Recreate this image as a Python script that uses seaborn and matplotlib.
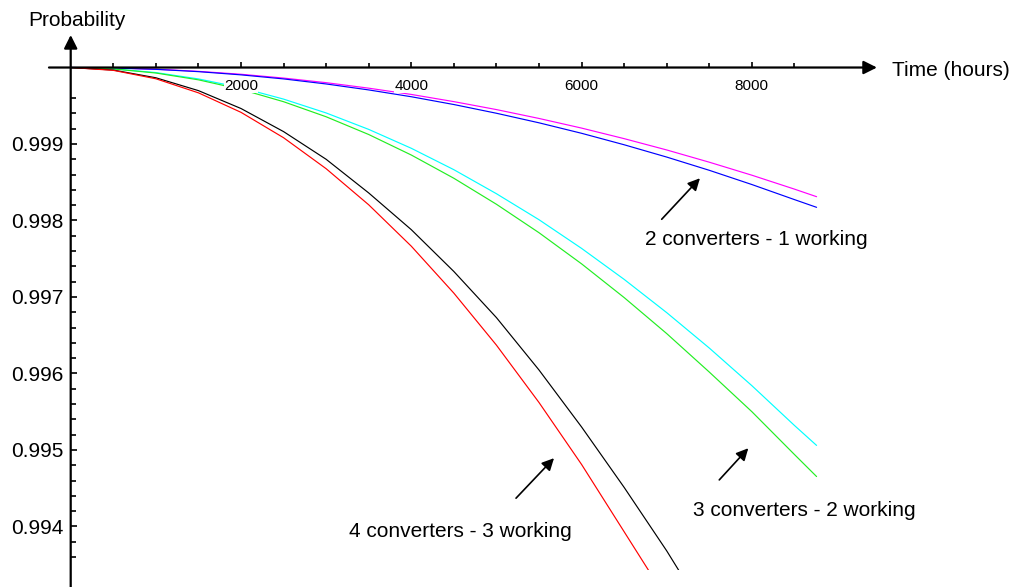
import matplotlib
matplotlib.use("Agg")
import matplotlib.pyplot as plt
import numpy as np
import pandas as pd
import seaborn as sns

# Operating time in hours (one year)
hours = [0, 500, 1000, 1500, 2000, 2500, 3000, 3500, 4000, 4500,
         5000, 5500, 6000, 6500, 7000, 7500, 8000, 8500, 8760]

# Reliability of each redundant converter arrangement
two_conv_upper = [1.0, 0.999994, 0.999978, 0.99995, 0.999912, 0.999862, 0.999802,
                  0.99973, 0.999648, 0.999554, 0.99945, 0.999334, 0.999208,
                  0.99907, 0.998922, 0.998762, 0.998592, 0.99841, 0.998311]
two_conv_lower = [1.0, 0.999994, 0.999976, 0.999946, 0.999904, 0.999851, 0.999785,
                  0.999707, 0.999618, 0.999516, 0.999402, 0.999277, 0.99914,
                  0.99899, 0.998829, 0.998656, 0.99847, 0.998273, 0.998172]
three_conv_upper = [1.0, 0.999983, 0.999934, 0.999851, 0.999736, 0.999587, 0.999406,
                    0.999191, 0.998944, 0.998664, 0.99835, 0.99801, 0.997635,
                    0.99723, 0.996795, 0.996332, 0.99584, 0.99532, 0.995059]
three_conv_lower = [1.0, 0.999982, 0.999928, 0.999839, 0.999714, 0.999553, 0.999356,
                    0.999124, 0.998856, 0.998552, 0.998212, 0.99784, 0.997433,
                    0.996992, 0.996521, 0.996018, 0.9955, 0.99494, 0.994652]
four_conv_upper = [1.0, 0.999967, 0.999866, 0.999698, 0.999464, 0.999162, 0.9988,
                   0.99836, 0.99788, 0.997333, 0.99673, 0.996045, 0.9953,
                   0.99451, 0.99368, 0.99278]
four_conv_lower = [1.0, 0.999963, 0.999853, 0.999669, 0.999414, 0.999082, 0.998677,
                   0.998205, 0.997664, 0.99705, 0.99637, 0.99562, 0.99481,
                   0.99393, 0.99305]

series = {
    "2 conv A": two_conv_upper,
    "2 conv B": two_conv_lower,
    "3 conv A": three_conv_upper,
    "3 conv B": three_conv_lower,
    "4 conv A": four_conv_upper,
    "4 conv B": four_conv_lower,
}
colors = {
    "2 conv A": "#ff00ff",
    "2 conv B": "#0000ff",
    "3 conv A": "#00ffff",
    "3 conv B": "#22ee22",
    "4 conv A": "#000000",
    "4 conv B": "#ff0000",
}

x_major = [2000, 4000, 6000, 8000]
x_labels = ["2000", "4000", "6000", "8000"]
y_major = [0.999, 0.998, 0.997, 0.996, 0.995, 0.994]
y_labels = ["0.999", "0.998", "0.997", "0.996", "0.995", "0.994"]

labels = [
    ("2 converters - 1 working", (8048, 0.997745), (6941, 0.998016), (7390, 0.998552)),
    ("3 converters - 2 working", (8612, 0.994203), (7617, 0.994608), (7958, 0.995022)),
    ("4 converters - 3 working", (4572, 0.993928), (5230, 0.994369), (5676, 0.994892)),
]

rows = []
for name, vals in series.items():
    for h, p in zip(hours, vals):
        rows.append({"hours": h, "prob": p, "series": name})
df = pd.DataFrame(rows)

sns.set_theme(style="white")
plt.rcParams["font.family"] = ["Liberation Sans", "DejaVu Sans"]
plt.rcParams["text.color"] = "black"

W, H = 1016, 587
fig = plt.figure(figsize=(W / 100, H / 100), dpi=100)
ax = fig.add_axes([0.04445, 0.02896, 0.82967, 0.91465])

sns.lineplot(data=df, x="hours", y="prob", hue="series", palette=colors,
             estimator=None, legend=False, linewidth=0.85, ax=ax)

ax.set_xlim(-300, 9600)
ax.set_ylim(0.99343, 1.00045)
ax.set_xlabel("")
ax.set_ylabel("")

# Axes cross at (0, 1.0)
for side in ["top", "right"]:
    ax.spines[side].set_visible(False)
ax.spines["left"].set_position(("data", 0))
ax.spines["bottom"].set_position(("data", 1.0))
ax.spines["left"].set_color("none")
ax.spines["bottom"].set_color("none")

ax.set_xticks(x_major, x_labels)
ax.set_xticks([t for t in range(500, 9000, 500) if t not in x_major], minor=True)
ax.set_yticks(y_major, y_labels)
minor_y = [round(v, 4) for v in np.arange(0.9936, 0.99961, 0.0002)]
ax.set_yticks([v for v in minor_y if round(v, 3) != v], minor=True)

ax.tick_params(axis="x", which="both", direction="in", colors="black",
               bottom=True, labelsize=11, pad=8, width=1.2)
ax.tick_params(axis="x", which="major", length=4.5)
ax.tick_params(axis="x", which="minor", length=3.5)
ax.tick_params(axis="y", which="both", direction="in", colors="black",
               left=True, labelsize=15, pad=5.5, width=1.2)
ax.tick_params(axis="y", which="major", length=4.5)
ax.tick_params(axis="y", which="minor", length=3.5)
ax.xaxis.set_zorder(2.5)
for lab in ax.get_xticklabels():
    lab.set_bbox(dict(facecolor="white", edgecolor="none", pad=0.3))

# Arrowed axis lines
ax.annotate("", xy=(9469, 1.0), xytext=(-255, 1.0), annotation_clip=False,
            arrowprops=dict(arrowstyle="-|>", color="black", lw=1.6,
                            mutation_scale=20, shrinkA=0, shrinkB=0))
ax.annotate("", xy=(0, 1.000425), xytext=(0, 0.99321), annotation_clip=False,
            arrowprops=dict(arrowstyle="-|>", color="black", lw=1.6,
                            mutation_scale=20, shrinkA=0, shrinkB=0))

fig.text(28 / W, 1 - 21 / H, "Probability", fontsize=15, ha="left", va="center")
fig.text(892 / W, 1 - 70 / H, "Time (hours)", fontsize=15, ha="left", va="center")

for text, pos, tail, tip in labels:
    ax.text(pos[0], pos[1], text, fontsize=15, ha="center", va="center")
    ax.annotate("", xy=tip, xytext=tail, annotation_clip=False,
                arrowprops=dict(arrowstyle="-|>", color="black", lw=1.2,
                                mutation_scale=18, shrinkA=0, shrinkB=0))

fig.savefig("out.png", dpi=100)
